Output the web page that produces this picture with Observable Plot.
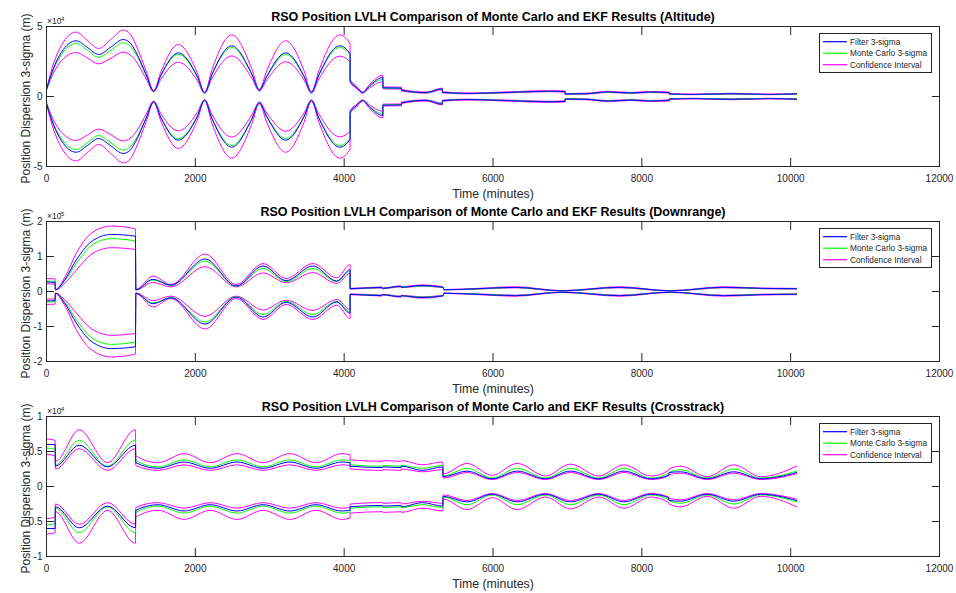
<!DOCTYPE html>
<html><head><meta charset="utf-8">
<script src="https://cdn.jsdelivr.net/npm/d3@7"></script>
<script src="https://cdn.jsdelivr.net/npm/@observablehq/plot@0.6"></script>
<style>
html,body{margin:0;padding:0;background:#fff;}
#chart{width:956px;height:593px;position:relative;overflow:hidden;background:#fff;}
#chart svg{display:block;}
</style></head><body><div id="chart"></div>
<script>
const FONT = "'Liberation Sans', Arial, Helvetica, sans-serif";
const xTicks = [0, 2000, 4000, 6000, 8000, 10000, 12000];
const seriesNames = ["Filter 3-sigma", "Monte Carlo 3-sigma", "Confidence Interval"];
const seriesColors = ["#0000ff", "#00ff00", "#ff00ff"];
const xLabel = "Time (minutes)";
const yLabel = "Position Dispersion 3-sigma (m)";

// ---------- Panel 1: Altitude (x 10^4 m) ----------
const title1 = "RSO Position LVLH Comparison of Monte Carlo and EKF Results (Altitude)";
const yTicks1 = [-5, 0, 5];
const exp1 = "4";
const t1 = [0,100,200,400,550,700,870,1030,1120,1200,
  1340,1440,1540,1770,2025,2125,2225,2490,2760,2860,
  2960,3215,3460,3560,3660,3940,4080,4080,4160,4250,
  4340,4520,4520,4770,4770,5100,5320,5320,5650,6000,
  6400,6750,6970,6970,7250,7550,7850,8100,8370,8370,
  8700,9200,9700,10080];
const filter1 = [0.5,2.1,3.15,3.98,3.5,3.0,3.55,4.07,3.85,3.2,
  1.55,0.38,1.55,3.12,1.45,0.26,1.6,3.62,1.6,0.45,
  1.45,3.12,1.45,0.29,1.55,3.62,3.05,1.1,0.68,0.28,
  0.75,1.36,0.62,0.6,0.45,0.28,0.55,0.3,0.22,0.26,
  0.33,0.38,0.35,0.18,0.2,0.33,0.25,0.32,0.28,0.18,
  0.15,0.2,0.15,0.19];
const mc1 = [0.5,2.0,3.0,3.79,3.3,2.79,3.33,3.83,3.62,3.05,
  1.5,0.36,1.5,3.02,1.4,0.25,1.55,3.5,1.55,0.43,
  1.4,3.0,1.4,0.28,1.5,3.5,2.95,1.15,0.7,0.27,
  0.7,1.22,0.6,0.58,0.44,0.27,0.53,0.29,0.21,0.25,
  0.32,0.37,0.34,0.17,0.19,0.32,0.24,0.31,0.27,0.17,
  0.14,0.19,0.14,0.18];
const ciHi1 = [0.56,2.45,3.65,4.6,4.0,3.43,4.1,4.74,4.5,3.7,
  1.8,0.42,1.8,3.71,1.7,0.3,1.95,4.4,1.95,0.5,
  1.85,3.98,1.85,0.33,1.85,4.4,3.75,1.25,0.78,0.32,
  0.85,1.52,0.68,0.66,0.5,0.32,0.6,0.34,0.25,0.29,
  0.37,0.42,0.39,0.21,0.23,0.37,0.28,0.36,0.32,0.21,
  0.17,0.23,0.17,0.22];
const ciLo1 = [0.45,1.75,2.55,3.14,2.75,2.33,2.75,3.17,3.0,2.55,
  1.25,0.32,1.25,2.45,1.15,0.22,1.3,2.9,1.3,0.38,
  1.18,2.48,1.18,0.24,1.25,2.88,2.45,1.0,0.6,0.24,
  0.6,1.05,0.55,0.53,0.4,0.24,0.48,0.26,0.19,0.23,
  0.29,0.34,0.31,0.15,0.17,0.29,0.22,0.28,0.24,0.15,
  0.13,0.17,0.13,0.16];

// ---------- Panel 2: Downrange (x 10^5 m) ----------
const title2 = "RSO Position LVLH Comparison of Monte Carlo and EKF Results (Downrange)";
const yTicks2 = [-2, -1, 0, 1, 2];
const exp2 = "5";
const t2 = [0,115,120,250,400,600,870,1195,1200,1430,
  1670,2130,2550,2910,3220,3580,3900,4080,4080,4505,
  4510,4760,4765,5030,5330,5340,5800,6300,6930,7700,
  8380,9100,9600,10080];
const filter2 = [0.27,0.26,0.05,0.35,0.9,1.42,1.63,1.58,0.05,0.35,
  0.18,0.93,0.16,0.73,0.31,0.73,0.3,0.62,0.08,0.12,
  0.09,0.15,0.12,0.17,0.12,0.05,0.08,0.12,0.02,0.12,
  0.02,0.12,0.09,0.08];
const mc2 = [0.3,0.29,0.05,0.32,0.8,1.31,1.51,1.44,0.05,0.33,
  0.17,0.87,0.15,0.66,0.28,0.66,0.28,0.58,0.08,0.11,
  0.09,0.14,0.12,0.16,0.12,0.05,0.075,0.115,0.02,0.115,
  0.02,0.115,0.085,0.075];
const ciHi2 = [0.37,0.36,0.06,0.42,1.09,1.66,1.87,1.79,0.06,0.44,
  0.2,1.07,0.2,0.8,0.37,0.8,0.39,0.77,0.09,0.13,
  0.1,0.16,0.13,0.19,0.13,0.055,0.09,0.135,0.025,0.135,
  0.025,0.135,0.1,0.09];
const ciLo2 = [0.22,0.21,0.04,0.25,0.61,1.06,1.25,1.2,0.04,0.26,
  0.13,0.71,0.13,0.53,0.25,0.54,0.23,0.52,0.07,0.1,
  0.08,0.13,0.11,0.15,0.11,0.045,0.07,0.105,0.015,0.105,
  0.015,0.105,0.08,0.07];

// ---------- Panel 3: Crosstrack (x 10^4 m) ----------
const title3 = "RSO Position LVLH Comparison of Monte Carlo and EKF Results (Crosstrack)";
const yTicks3 = [-1, -0.5, 0, 0.5, 1];
const exp3 = "4";
const t3 = [0,115,120,440,820,1195,1200,1500,1850,2200,
  2560,2910,3270,3620,3970,4080,4080,4515,4520,4765,
  4770,5050,5325,5330,5650,5990,6325,6705,7040,7420,
  7760,8120,8360,8365,8520,8880,9235,9600,10080];
const filter3 = [0.6,0.6,0.29,0.59,0.28,0.59,0.34,0.26,0.35,0.26,
  0.35,0.26,0.35,0.26,0.35,0.34,0.29,0.27,0.28,0.27,
  0.29,0.23,0.28,0.14,0.22,0.11,0.22,0.11,0.22,0.11,
  0.22,0.11,0.16,0.2,0.21,0.11,0.21,0.11,0.2];
const mc3 = [0.55,0.53,0.31,0.66,0.29,0.66,0.37,0.28,0.38,0.28,
  0.38,0.28,0.38,0.28,0.38,0.37,0.31,0.29,0.3,0.29,
  0.3,0.26,0.3,0.15,0.26,0.12,0.26,0.12,0.26,0.12,
  0.26,0.12,0.19,0.2,0.24,0.12,0.25,0.12,0.22];
const ciHi3 = [0.68,0.66,0.36,0.81,0.34,0.81,0.44,0.34,0.47,0.34,
  0.47,0.34,0.47,0.34,0.47,0.45,0.38,0.36,0.37,0.36,
  0.37,0.31,0.35,0.18,0.33,0.16,0.33,0.15,0.32,0.15,
  0.31,0.15,0.23,0.25,0.29,0.14,0.31,0.14,0.29];
const ciLo3 = [0.46,0.44,0.25,0.54,0.23,0.54,0.3,0.23,0.31,0.23,
  0.31,0.23,0.31,0.23,0.31,0.3,0.25,0.23,0.24,0.23,
  0.25,0.21,0.24,0.12,0.2,0.1,0.2,0.1,0.2,0.1,
  0.2,0.1,0.15,0.17,0.19,0.1,0.19,0.1,0.18];

const W = 956, ML = 46, MR = 17, MT = 26, FB = 166;

function panel({title, yTicks, exp, t, F, M, H, L, height}) {
  const rows = t.map((tt, i) => ({t: tt, f: F[i], m: M[i], h: H[i], l: L[i]}));
  const ln = (key, sign, color) => Plot.line(rows, {x: "t", y: d => sign * d[key], stroke: color, strokeWidth: 1, curve: "monotone-x"});
  const yDom = [yTicks[0], yTicks[yTicks.length - 1]];
  const fmt = d => String(d);
  const svg = Plot.plot({
    width: W, height,
    marginLeft: ML, marginRight: MR, marginTop: MT, marginBottom: height - FB,
    x: {domain: [0, 12000], label: null},
    y: {domain: yDom, label: null},
    style: {fontFamily: FONT, fontSize: "10px", color: "#262626", background: "transparent", overflow: "visible"},
    marks: [
      ln("h", 1, seriesColors[2]), ln("h", -1, seriesColors[2]),
      ln("l", 1, seriesColors[2]), ln("l", -1, seriesColors[2]),
      ln("m", 1, seriesColors[1]), ln("m", -1, seriesColors[1]),
      ln("f", 1, seriesColors[0]), ln("f", -1, seriesColors[0]),
      Plot.frame({stroke: "#262626", strokeWidth: 1}),
      Plot.axisX({ticks: xTicks, tickSize: 0, tickPadding: 8, tickFormat: fmt, label: null, fill: "#262626"}),
      Plot.axisX({ticks: xTicks, anchor: "bottom", tickSize: -8, fill: "none", stroke: "#262626", label: null}),
      Plot.axisX({ticks: xTicks, anchor: "top", tickSize: -8, fill: "none", stroke: "#262626", label: null}),
      Plot.axisY({ticks: yTicks, tickSize: 0, tickPadding: 4, tickFormat: fmt, label: null, fill: "#262626"}),
      Plot.axisY({ticks: yTicks, anchor: "left", tickSize: -8, fill: "none", stroke: "#262626", label: null}),
      Plot.axisY({ticks: yTicks, anchor: "right", tickSize: -8, fill: "none", stroke: "#262626", label: null}),
      Plot.text([title], {text: d => d, frameAnchor: "top", textAnchor: "middle", lineAnchor: "bottom", dy: -5.5, fontSize: 12.5, fontWeight: "bold", fill: "#000"}),
      Plot.text([xLabel], {text: d => d, frameAnchor: "bottom", textAnchor: "middle", lineAnchor: "bottom", dy: 31, fontSize: 12.3, fill: "#262626"}),
      Plot.text([yLabel], {text: d => d, frameAnchor: "left", textAnchor: "middle", lineAnchor: "bottom", rotate: -90, dx: -16.8, dy: 2, fontSize: 12, fill: "#262626"}),
      Plot.text(["\u00d710"], {text: d => d, frameAnchor: "top-left", textAnchor: "start", lineAnchor: "bottom", dx: 0.5, dy: -2.5, fontSize: 8.5, fill: "#262626"}),
      Plot.text([exp], {text: d => d, frameAnchor: "top-left", textAnchor: "start", lineAnchor: "bottom", dx: 14.5, dy: -6, fontSize: 6, fill: "#262626"})
    ]
  });
  // legend box inside the axes (top-right)
  const right = W - MR;
  const g = d3.select(svg).append("g").attr("font-family", FONT).attr("font-size", 8.3).attr("text-anchor", "start");
  const x0 = right - 120, y0 = MT + 7;
  g.append("rect").attr("x", x0 + 0.5).attr("y", y0 + 0.5).attr("width", 112).attr("height", 39)
    .attr("fill", "#fff").attr("stroke", "#262626").attr("stroke-width", 1);
  seriesNames.forEach((name, i) => {
    const y = y0 + 8.7 + i * 11.5;
    g.append("line").attr("x1", x0 + 4).attr("x2", x0 + 28).attr("y1", y).attr("y2", y)
      .attr("stroke", seriesColors[i]).attr("stroke-width", 1.2);
    g.append("text").attr("x", x0 + 31).attr("y", y).attr("dy", "0.35em").attr("text-anchor", "start")
      .attr("fill", "#262626").text(name);
  });
  return svg;
}

const chart = document.getElementById("chart");
chart.append(panel({title: title1, yTicks: yTicks1, exp: exp1, t: t1, F: filter1, M: mc1, H: ciHi1, L: ciLo1, height: 195}));
chart.append(panel({title: title2, yTicks: yTicks2, exp: exp2, t: t2, F: filter2, M: mc2, H: ciHi2, L: ciLo2, height: 195}));
chart.append(panel({title: title3, yTicks: yTicks3, exp: exp3, t: t3, F: filter3, M: mc3, H: ciHi3, L: ciLo3, height: 203}));
</script></body></html>
